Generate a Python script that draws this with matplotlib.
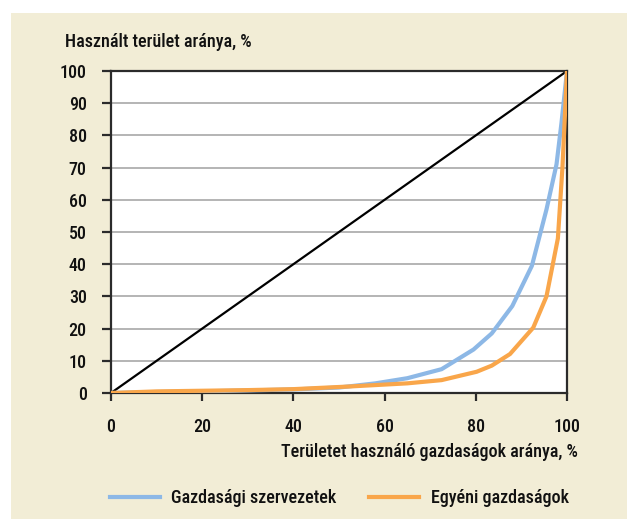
import matplotlib
matplotlib.use("Agg")
import matplotlib.pyplot as plt
from matplotlib import font_manager
from matplotlib.patches import Rectangle

# --- adatok (Lorenz-görbék, leolvasva) ---
x_szerv = [0, 10, 20, 30, 40, 50, 58, 65, 72.5, 79.5, 83.5, 88, 92.3, 95.5, 97.7, 98.8, 100]
y_szerv = [0, 0.3, 0.5, 0.8, 1.1, 1.7, 3.0, 4.6, 7.4, 13.5, 18.5, 27, 39.5, 57, 71, 84, 100]

x_egyeni = [0, 10, 20, 30, 40, 52, 65, 72.5, 80.2, 83.5, 87.5, 92.6, 95.5, 98, 99, 99.5, 100]
y_egyeni = [0, 0.5, 0.7, 0.9, 1.2, 2.0, 3.0, 4.0, 6.6, 8.5, 12.1, 20.3, 30, 48, 70, 85, 100]

x_ticks = [0, 20, 40, 60, 80, 100]
y_ticks = list(range(0, 101, 10))

BLUE = "#8DB8E6"
ORANGE = "#F9A64A"
CREAM = "#F2EDD6"
DARK = "#2b2b2b"

# keskeny betűtípus keresése
fonts = font_manager.fontManager.ttflist
narrow = None
for want in ["Liberation Sans Narrow", "Roboto Condensed", "Open Sans Condensed"]:
    if any(f.name == want for f in fonts):
        narrow = {"family": [want, "DejaVu Sans"], "stretch": "normal"}
        break
if narrow is None:
    cond = [f for f in fonts if f.stretch in ("condensed", "semi-condensed", 75, 87, 62)]
    pick = None
    for pref in ["Roboto", "Open Sans", "Noto Sans", "DejaVu Sans"]:
        for f in cond:
            if f.name == pref:
                pick = f
                break
        if pick:
            break
    if pick is not None:
        narrow = {"family": [pick.name, "DejaVu Sans"], "stretch": pick.stretch}
    else:
        narrow = {"family": ["DejaVu Sans"], "stretch": "condensed"}

plt.rcParams["font.family"] = narrow["family"]
plt.rcParams["font.stretch"] = narrow["stretch"]
plt.rcParams["font.weight"] = "medium"
FS = 13
TXT = "#111111"

fig = plt.figure(figsize=(6.27, 5.19), dpi=100)
fig.patch.set_facecolor("white")
fig.patches.append(Rectangle((11 / 627, 0), 1, 1 - 13 / 519, transform=fig.transFigure,
                             facecolor=CREAM, edgecolor="none", zorder=-10))

ax = fig.add_axes([111 / 627, 1 - 393 / 519, (567 - 111) / 627, (393 - 71) / 519])
ax.set_facecolor("white")

ax.plot([0, 100], [0, 100], color="black", lw=1.6, zorder=3)
l1, = ax.plot(x_szerv, y_szerv, color=BLUE, lw=3, solid_joinstyle="miter", zorder=4)
l2, = ax.plot(x_egyeni, y_egyeni, color=ORANGE, lw=3, solid_joinstyle="miter", zorder=5)

ax.set_xlim(0, 100)
ax.set_ylim(0, 100)
ax.set_xticks(x_ticks)
ax.set_yticks(y_ticks)
ax.grid(axis="y", color="#a8a8a8", lw=1.2)
ax.set_axisbelow(True)

for s in ax.spines.values():
    s.set_color(DARK)
    s.set_linewidth(1.6)

ax.tick_params(axis="y", direction="out", length=6.5, width=1.6, color=DARK, pad=11,
               labelsize=FS, labelcolor=TXT)
ax.tick_params(axis="x", direction="out", length=6, width=1.6, color=DARK, pad=12,
               labelsize=FS, labelcolor=TXT)

fig.text(65 / 627, 1 - 42 / 519, "Használt terület aránya, %", fontsize=FS,
         ha="left", va="center", color=TXT)
fig.text(578 / 627, 1 - 452 / 519, "Területet használó gazdaságok aránya, %", fontsize=FS,
         ha="right", va="center", color=TXT)

leg = fig.legend([l1, l2], ["Gazdasági szervezetek", "Egyéni gazdaságok"],
                 loc="center left", bbox_to_anchor=(110 / 627, 1 - 498 / 519), ncol=2,
                 frameon=False, fontsize=FS, handlelength=2.75, handletextpad=0.65,
                 columnspacing=1.8, borderpad=0, borderaxespad=0)
for t in leg.get_texts():
    t.set_color(TXT)

fig.savefig("out.png", dpi=100, facecolor=fig.get_facecolor())
